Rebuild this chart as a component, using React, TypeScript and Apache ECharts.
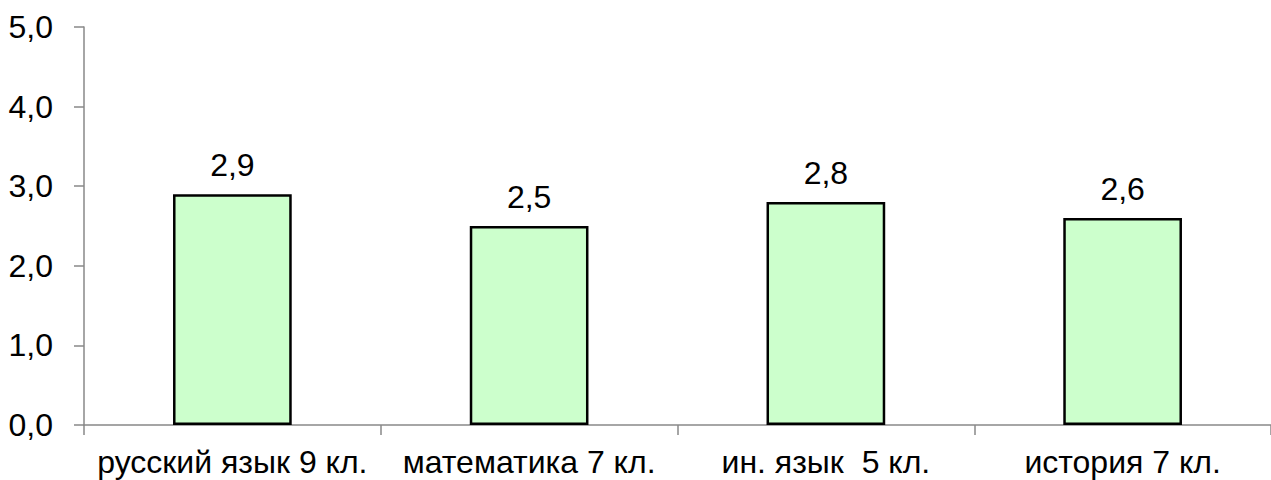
import React, { useEffect, useRef } from 'react';
import * as echarts from 'echarts';

const titleText = 'Средний балл ВПР при среднем уровне усвоения';
const categories = ['русский язык 9 кл.', 'математика 7 кл.', 'ин. язык  5 кл.', 'история 7 кл.'];
const values = [2.9, 2.5, 2.8, 2.6];
const yMin = 0;
const yMax = 5;
const yInterval = 1;

const sans = '"Liberation Sans", Arial, sans-serif';
const fmt = (v: number) => v.toFixed(1).replace('.', ',');

export default function App() {
  const ref = useRef<HTMLDivElement>(null);
  useEffect(() => {
    const chart = echarts.init(ref.current as HTMLDivElement, null, { renderer: 'svg' });
    chart.setOption({
      animation: false,
      backgroundColor: '#ffffff',
      grid: { left: 84, top: 27, width: 1196, height: 398, containLabel: false },
      graphic: [
        {
          type: 'text',
          x: 240,
          y: -25,
          style: {
            text: titleText,
            font: 'bold 40px "Liberation Serif", "Times New Roman", serif',
            fill: '#000',
            align: 'left',
            verticalAlign: 'middle',
          },
        },
      ],
      xAxis: {
        type: 'category',
        data: categories,
        axisLine: { show: true, lineStyle: { color: '#888888', width: 1.5 } },
        axisTick: { show: true, length: 10, lineStyle: { color: '#888888', width: 1.5 } },
        axisLabel: { color: '#000', fontSize: 32, fontFamily: sans, margin: 21, interval: 0 },
      },
      yAxis: {
        type: 'value',
        min: yMin,
        max: yMax,
        interval: yInterval,
        axisLine: { show: true, lineStyle: { color: '#888888', width: 1.5 } },
        axisTick: { show: true, length: 10, lineStyle: { color: '#888888', width: 1.5 } },
        splitLine: { show: false },
        axisLabel: { color: '#000', fontSize: 32, fontFamily: sans, margin: 31, formatter: (v: number) => fmt(v) },
      },
      series: [
        {
          type: 'bar',
          data: values,
          barWidth: '40%',
          itemStyle: { color: '#ccffcc', borderColor: '#000', borderWidth: 2.5 },
          label: {
            show: true,
            position: 'top',
            distance: 13,
            color: '#000',
            fontSize: 32,
            fontFamily: sans,
            formatter: (p: any) => fmt(p.value),
          },
        },
      ],
    });
    return () => chart.dispose();
  }, []);
  return (
    <div
      ref={ref}
      style={{ position: 'fixed', left: 0, top: 0, width: 1271, height: 480, background: '#fff' }}
    />
  );
}
